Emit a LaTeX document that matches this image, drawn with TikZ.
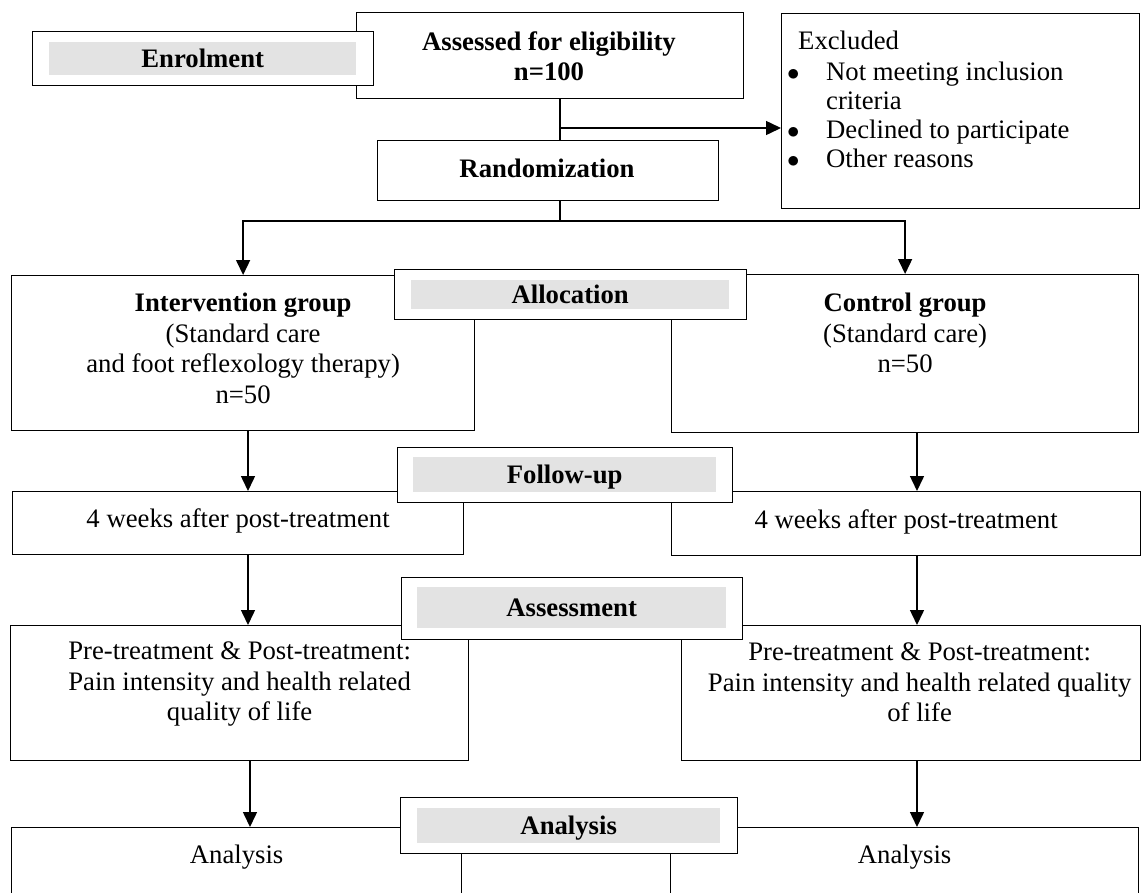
\documentclass[tikz,border=0pt]{standalone}
\usepackage{fontspec}
\setmainfont{Liberation Serif}
\usetikzlibrary{arrows.meta,positioning}

\newcommand{\blt}{\makebox[42pt][l]{\hspace{3pt}$\bullet$}}

\tikzset{
  box/.style={draw, line width=1.2pt, inner sep=0pt, anchor=north west},
  stage/.style={draw, line width=1.4pt, fill=white, inner sep=0pt, anchor=north west},
  shade/.style={fill=black!11, inner sep=0pt, anchor=north west, text height=17.5pt, text depth=0pt,
    font=\fontsize{26.7}{30.5}\selectfont\bfseries},
  txt/.style={anchor=north, align=center, inner sep=0pt, font=\fontsize{26.7}{30.5}\selectfont},
  btxt/.style={txt, font=\fontsize{26.7}{30.5}\selectfont\bfseries},
  arr/.style={line width=1.5pt, -{Triangle[length=15pt,width=14pt]}},
  lnk/.style={line width=1.5pt}
}

\begin{document}
\begin{tikzpicture}[x=1pt, y=-1pt]
\useasboundingbox (0,0) rectangle (1145,892);

% enrolment
\node[box, minimum width=387pt, minimum height=86pt] (ass) at (356,12) {};
\node[btxt] (assT) at (549,31) {Assessed for eligibility\\n=100};
\node[box, minimum width=341pt, minimum height=60pt] (rand) at (377,140) {};
\node[btxt] (randT) at (547,159) {Randomization};
\node[box, minimum width=358pt, minimum height=195pt] (excl) at (781,13) {};
\node[txt, anchor=north west, align=left, font=\fontsize{26.7}{29}\selectfont] (exclT) at (784,31)
  {\hspace*{14pt}Excluded\\[2pt]
   \blt Not meeting inclusion\\
   \hspace*{42pt}criteria\\
   \blt Declined to participate\\
   \blt Other reasons};

% group boxes
\node[box, minimum width=463pt, minimum height=155pt] (int) at (11,275) {};
\node[txt, below=18pt of int.north] (intT)
  {\textbf{Intervention group}\\(Standard care\\and foot reflexology therapy)\\n=50};
\node[box, minimum width=467pt, minimum height=158pt] (ctl) at (671,274) {};
\node[txt, below=19pt of ctl.north] (ctlT) {\textbf{Control group}\\(Standard care)\\n=50};

\node[box, minimum width=451pt, minimum height=63pt] (wk1) at (12,491) {};
\node[txt, below=17pt of wk1.north] (wk1T) {4 weeks after post-treatment};
\node[box, minimum width=469pt, minimum height=64pt] (wk2) at (671,491) {};
\node[txt, below=18pt of wk2.north] (wk2T) {4 weeks after post-treatment};

\node[box, minimum width=458pt, minimum height=135pt] (preL) at (10,625) {};
\node[txt, below=17pt of preL.north] (preLT)
  {Pre-treatment \& Post-treatment:\\Pain intensity and health related\\quality of life};
\node[box, minimum width=459pt, minimum height=135pt] (preR) at (681,625) {};
\node[txt, below=18pt of preR.north, xshift=8.5pt] (preRT)
  {Pre-treatment \& Post-treatment:\\Pain intensity and health related quality\\of life};

\node[box, minimum width=450pt, minimum height=110pt] (anaL) at (11,827) {};
\node[txt, below=18pt of anaL.north] (anaLT) {Analysis};
\node[box, minimum width=468pt, minimum height=110pt] (anaR) at (670,827) {};
\node[txt, below=18pt of anaR.north] (anaRT) {Analysis};

% stage labels
\node[stage, minimum width=341pt, minimum height=54pt] (enrol) at (32,31) {};
\node[shade, minimum width=307pt, minimum height=33pt] (enrolT) at (49,42) {Enrolment};
\node[stage, minimum width=352pt, minimum height=50pt] (alloc) at (394,269) {};
\node[shade, minimum width=318pt, minimum height=29pt] (allocT) at (411,280) {Allocation};
\node[stage, minimum width=335pt, minimum height=55pt] (follow) at (397,447) {};
\node[shade, minimum width=303pt, minimum height=35pt] (followT) at (413,457) {Follow-up};
\node[stage, minimum width=341pt, minimum height=62pt] (asmt) at (401,577) {};
\node[shade, minimum width=309pt, minimum height=41pt] (asmtT) at (417,587) {Assessment};
\node[stage, minimum width=337pt, minimum height=56pt] (anal) at (400,797) {};
\node[shade, minimum width=303pt, minimum height=35pt] (analT) at (417,808) {Analysis};

% connectors
\coordinate (spine) at (560,128);
\coordinate (fork) at (560,221);
\coordinate (laneL) at (248,0);
\coordinate (laneR) at (917,0);
\draw[lnk] (spine |- ass.south) -- (spine |- rand.north);
\draw[arr] (spine) -- (spine -| excl.west);
\draw[lnk] (fork |- rand.south) -- (fork);
\draw[arr] (fork) -| (int.north);
\draw[arr] (fork) -| (ctl.north);
\draw[arr] (laneL |- int.south) -- (laneL |- wk1.north);
\draw[arr] (laneL |- wk1.south) -- (laneL |- preL.north);
\draw[arr] ([xshift=2pt]laneL |- preL.south) -- ([xshift=2pt]laneL |- anaL.north);
\draw[arr] (laneR |- ctl.south) -- (laneR |- wk2.north);
\draw[arr] (laneR |- wk2.south) -- (laneR |- preR.north);
\draw[arr] (laneR |- preR.south) -- (laneR |- anaR.north);
\end{tikzpicture}
\end{document}
